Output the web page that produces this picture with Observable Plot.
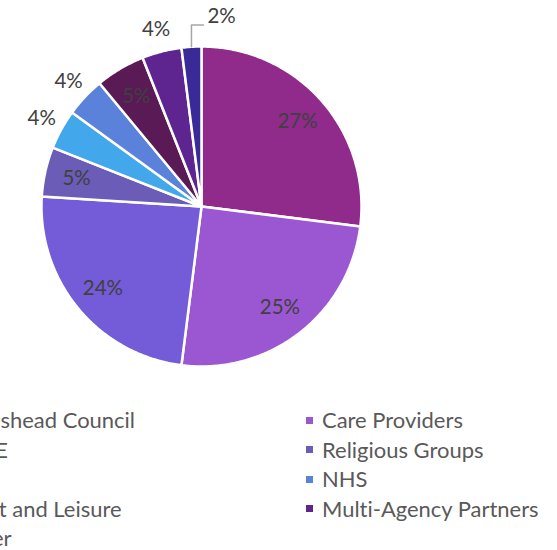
<!DOCTYPE html>
<html>
<head>
<meta charset="utf-8">
<script src="https://cdn.jsdelivr.net/npm/d3@7"></script>
<script src="https://cdn.jsdelivr.net/npm/@observablehq/plot@0.6"></script>
<style>
  html, body { margin: 0; padding: 0; background: #fff; overflow: hidden; }
  #wrap { position: relative; width: 557px; height: 550px; overflow: hidden; font-family: Lato, "Open Sans", sans-serif; }
  .leg { position: absolute; white-space: nowrap; color: #595959; font-variant-ligatures: none; }
  .sw { position: absolute; width: 7px; height: 7px; }
</style>
</head>
<body>
<div id="wrap"></div>
<script>
// ---- data ----
const categories = ["Gateshead Council", "Care Providers", "VCSE", "Religious Groups", "CCG", "NHS", "Sport and Leisure", "Multi-Agency Partners", "Other"];
const values = [27, 25, 24, 5, 4, 4, 5, 4, 2];
const colors = ["#902A8B", "#9B56D2", "#745BD8", "#6A5CB7", "#42A7EB", "#5A82DB", "#591A55", "#5E2590", "#3A2A98"];

// ---- layout ----
const W = 557, H = 400;
const cx = 201, cy = 206, R = 160;
const wrap = document.getElementById("wrap");

const arcs = d3.pie().sort(null).value(d => d)(values);

// slice polygons (data coords, unit circle, y up)
const slicePts = [];
arcs.forEach((a, i) => {
  const name = categories[i];
  slicePts.push({name, x: 0, y: 0});
  const n = Math.max(4, Math.ceil((a.endAngle - a.startAngle) / 0.01));
  for (let k = 0; k <= n; k++) {
    const t = a.startAngle + (a.endAngle - a.startAngle) * k / n;
    slicePts.push({name, x: Math.sin(t), y: Math.cos(t)});
  }
  slicePts.push({name, x: 0, y: 0});
});

// labels
const labels = [];
const leaderLabels = [];
const leader = [];
arcs.forEach((a, i) => {
  const m = (a.startAngle + a.endAngle) / 2;
  const v = values[i];
  if (v <= 2) {
    // leader line: from slice edge straight up, then right to the label
    const x0 = Math.sin(m), y0 = Math.cos(m);
    const yTop = 1.135;
    const dx = 12 / R;
    leader.push({x: x0, y: y0}, {x: x0, y: yTop}, {x: x0 + dx, y: yTop});
    leaderLabels.push({x: x0 + dx + 4 / R, y: yTop + 8 / R, text: v + "%"});
  } else {
    const r = v < 5 ? 1.14 : 0.8;
    labels.push({x: r * Math.sin(m), y: r * Math.cos(m), text: v + "%"});
  }
});

const plot = Plot.plot({
  width: W, height: H,
  margin: 0,
  x: {domain: [-1, 1], range: [cx - R, cx + R], axis: null},
  y: {domain: [-1, 1], range: [cy + R, cy - R], axis: null},
  color: {domain: categories, range: colors},
  style: {fontFamily: "Lato, 'Open Sans', sans-serif", background: "white", overflow: "hidden"},
  marks: [
    Plot.line(slicePts, {x: "x", y: "y", z: "name", fill: "name", stroke: "white", strokeWidth: 2.5, strokeLinejoin: "round", curve: "linear"}),
    Plot.line(leader, {x: "x", y: "y", stroke: "#A6A6A6", strokeWidth: 1.5}),
    Plot.text(labels, {x: "x", y: "y", text: "text", textAnchor: "middle", fontSize: 20.5, fill: "#404040"}),
    Plot.text(leaderLabels, {x: "x", y: "y", text: "text", textAnchor: "start", fontSize: 20.5, fill: "#404040"})
  ]
});
wrap.appendChild(plot);

// ---- legend (below the svg) ----
const ctx = document.createElement("canvas").getContext("2d");
ctx.font = "100px Lato";
const f1 = 142 / (ctx.measureText("Care Providers").width / 100);
const f2 = 216 / (ctx.measureText("Multi-Agency Partners").width / 100);
const fs = (f1 + f2) / 2;
ctx.font = fs + "px Lato";
const leftTextEnd = 135;
const leftTextX = leftTextEnd - ctx.measureText("Gateshead Council").width;
const rightTextX = 322;
const rowY0 = 420, rowH = 29.5;

categories.forEach((c, i) => {
  const col = i % 2, row = Math.floor(i / 2);
  const tx = col === 0 ? leftTextX : rightTextX;
  const yc = rowY0 + row * rowH;
  const sw = document.createElement("div");
  sw.className = "sw";
  sw.style.left = (tx - 16) + "px";
  sw.style.top = (yc - 3.5) + "px";
  sw.style.background = colors[i];
  wrap.appendChild(sw);
  const t = document.createElement("div");
  t.className = "leg";
  t.textContent = c;
  t.style.fontSize = fs + "px";
  t.style.lineHeight = "24px";
  t.style.left = tx + "px";
  t.style.top = (yc - 12) + "px";
  wrap.appendChild(t);
});
</script>
</body>
</html>
